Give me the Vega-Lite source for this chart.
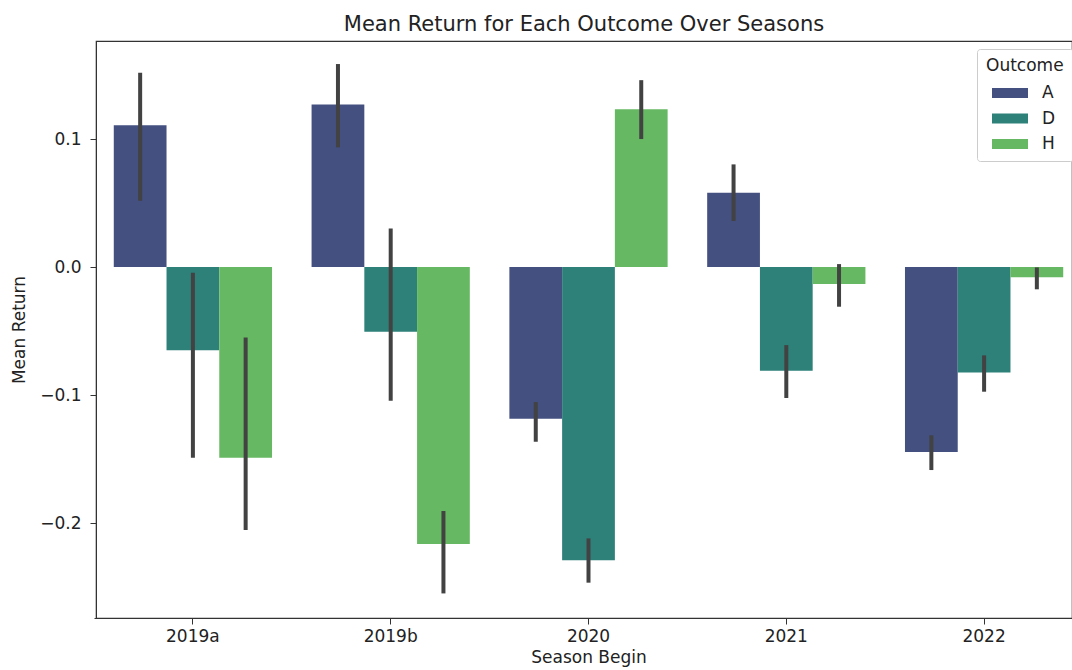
{
  "$schema": "https://vega.github.io/schema/vega-lite/v6.json",
  "autosize": "none",
  "width": 976,
  "height": 577,
  "padding": {"left": 96, "top": 41, "right": 0, "bottom": 52},
  "background": "white",
  "title": {"text": "Mean Return for Each Outcome Over Seasons", "font": "DejaVu Sans", "fontSize": 21, "fontWeight": "normal", "color": "#222", "offset": 6, "anchor": "middle"},
  "config": {
    "view": {"stroke": "#333", "strokeWidth": 1.2},
    "axis": {"labelFont": "DejaVu Sans", "titleFont": "DejaVu Sans", "labelFontSize": 17, "titleFontSize": 17, "titleFontWeight": "normal", "labelColor": "#222", "titleColor": "#222", "domainColor": "#333", "tickColor": "#333", "tickSize": 6, "grid": false},
    "legend": {"labelFont": "DejaVu Sans", "titleFont": "DejaVu Sans"}
  },
  "data": {"values": [
    {"season": "2019a", "outcome": "A", "mean": 0.1107, "lo": 0.0518, "hi": 0.1518},
    {"season": "2019a", "outcome": "D", "mean": -0.065, "lo": -0.149, "hi": -0.0045},
    {"season": "2019a", "outcome": "H", "mean": -0.149, "lo": -0.2055, "hi": -0.055},
    {"season": "2019b", "outcome": "A", "mean": 0.127, "lo": 0.0935, "hi": 0.1586},
    {"season": "2019b", "outcome": "D", "mean": -0.0505, "lo": -0.1045, "hi": 0.0302},
    {"season": "2019b", "outcome": "H", "mean": -0.2164, "lo": -0.255, "hi": -0.1906},
    {"season": "2020", "outcome": "A", "mean": -0.1185, "lo": -0.1365, "hi": -0.1055},
    {"season": "2020", "outcome": "D", "mean": -0.229, "lo": -0.2466, "hi": -0.212},
    {"season": "2020", "outcome": "H", "mean": 0.1232, "lo": 0.1, "hi": 0.146},
    {"season": "2021", "outcome": "A", "mean": 0.058, "lo": 0.036, "hi": 0.0802},
    {"season": "2021", "outcome": "D", "mean": -0.081, "lo": -0.1023, "hi": -0.061},
    {"season": "2021", "outcome": "H", "mean": -0.0133, "lo": -0.031, "hi": 0.0023},
    {"season": "2022", "outcome": "A", "mean": -0.1445, "lo": -0.1586, "hi": -0.1315},
    {"season": "2022", "outcome": "D", "mean": -0.0823, "lo": -0.0974, "hi": -0.069},
    {"season": "2022", "outcome": "H", "mean": -0.008, "lo": -0.0174, "hi": -0.0003}
  ]},
  "encoding": {
    "x": {"field": "season", "type": "nominal", "title": "Season Begin",
          "scale": {"range": [-2, 987], "paddingInner": 0.2, "paddingOuter": 0.1},
          "axis": {"labelAngle": 0, "titlePadding": 5, "labelPadding": 4}},
    "xOffset": {"field": "outcome", "type": "nominal", "scale": {"paddingInner": 0, "paddingOuter": 0}}
  },
  "layer": [
    {
      "mark": {"type": "bar"},
      "encoding": {
        "y": {"field": "mean", "type": "quantitative", "title": "Mean Return",
              "scale": {"domain": [-0.2742, 0.1766], "nice": false, "zero": false},
              "axis": {"values": [-0.2, -0.1, 0.0, 0.1], "format": ".1f", "titlePadding": 11, "labelPadding": 9}},
        "color": {"field": "outcome", "type": "nominal", "title": "Outcome",
                  "scale": {"domain": ["A", "D", "H"], "range": ["#435080", "#2d8179", "#66b962"]},
                  "legend": {"orient": "none", "legendX": 881, "legendY": 8, "strokeColor": "#cccccc", "padding": 9, "cornerRadius": 3, "fillColor": "white",
                             "titleFontSize": 17, "titleFontWeight": "normal", "titleColor": "#222", "labelFontSize": 17, "labelColor": "#222",
                             "symbolType": "M-2,-0.55L2,-0.55L2,0.55L-2,0.55Z", "symbolSize": 324, "symbolStrokeWidth": 0, "symbolOpacity": 1,
                             "symbolOffset": 15, "rowPadding": 8.5, "labelOffset": 23, "titlePadding": 9}}
      }
    },
    {
      "mark": {"type": "rule", "color": "#424242", "strokeWidth": 4},
      "encoding": {
        "y": {"field": "lo", "type": "quantitative"},
        "y2": {"field": "hi"}
      }
    }
  ]
}
